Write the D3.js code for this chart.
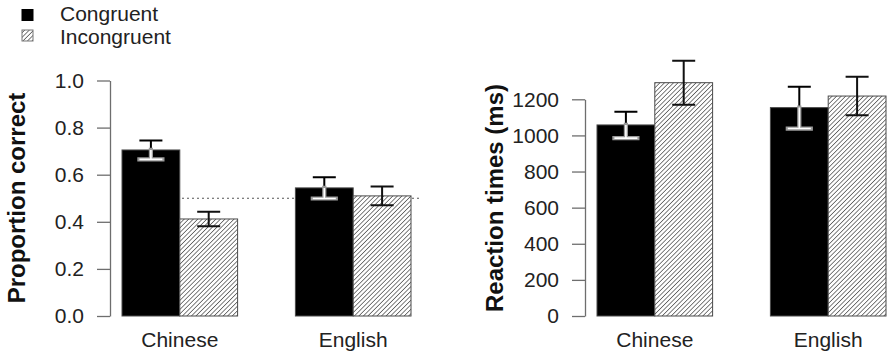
<!DOCTYPE html>
<html>
<head>
<meta charset="utf-8">
<script src="https://cdn.jsdelivr.net/npm/d3@7"></script>
<style>
  html, body { margin: 0; padding: 0; background: #fff; }
  svg { display: block; font-family: "Liberation Sans", Arial, sans-serif; }
</style>
</head>
<body>
<svg id="chart" width="887" height="354"></svg>
<script>
// Languages on the x axis and the two trial conditions
const languages = ["Chinese", "English"];
const conditions = ["Congruent", "Incongruent"];

// Proportion correct (mean and error half-width), per language x condition
const accuracyMean = [[0.705, 0.412], [0.544, 0.510]];
const accuracyErr  = [[0.040, 0.031], [0.045, 0.040]];

// Reaction times in ms (mean and error half-width)
const rtMean = [[1058, 1292], [1154, 1218]];
const rtErr  = [[73, 122], [116, 107]];

// Axis tick values
const accuracyTicks = [0, 0.2, 0.4, 0.6, 0.8, 1.0];
const rtTicks = [0, 200, 400, 600, 800, 1000, 1200];

// Chance level for the accuracy panel
const chanceLevel = 0.5;

const svg = d3.select("#chart");
const axisColor = "#6e6e6e";
const edgeColor = "#4a4a4a";

// Diagonal hatch pattern for incongruent bars
const defs = svg.append("defs");
const pat = defs.append("pattern")
  .attr("id", "hatch")
  .attr("patternUnits", "userSpaceOnUse")
  .attr("width", 3.2).attr("height", 3.2)
  .attr("patternTransform", "rotate(45)");
pat.append("rect").attr("width", 3.2).attr("height", 3.2).attr("fill", "#fff");
pat.append("line")
  .attr("x1", 0).attr("y1", 0).attr("x2", 0).attr("y2", 3.2)
  .attr("stroke", "#3a3a3a").attr("stroke-width", 1.3);

const fillFor = c => c === "Congruent" ? "#000" : "url(#hatch)";

function panel(opts) {
  const { xRange, yScale, ticks, fmt, means, errs, label, labelX, chance } = opts;
  const g = svg.append("g");

  const x0 = d3.scaleBand().domain(languages).range(xRange)
    .paddingInner(1 / 3).paddingOuter(0);
  const x1 = d3.scaleBand().domain(conditions).range([0, x0.bandwidth()]);

  // Chance-level reference line, behind the bars
  if (chance !== undefined) {
    g.append("line")
      .attr("x1", xRange[0]).attr("x2", xRange[1] + 11)
      .attr("y1", yScale(chance)).attr("y2", yScale(chance))
      .attr("stroke", "#555").attr("stroke-width", 1.2)
      .attr("stroke-dasharray", "2,3");
  }

  const rows = [];
  languages.forEach((lang, i) => conditions.forEach((cond, j) => {
    rows.push({ lang, cond, mean: means[i][j], err: errs[i][j] });
  }));

  // Bars
  g.selectAll("rect.bar").data(rows).join("rect")
    .attr("class", "bar")
    .attr("x", d => x0(d.lang) + x1(d.cond))
    .attr("width", x1.bandwidth())
    .attr("y", d => yScale(d.mean))
    .attr("height", d => yScale(0) - yScale(d.mean))
    .attr("fill", d => fillFor(d.cond))
    .attr("stroke", edgeColor).attr("stroke-width", 1);

  // Error bars
  const capHalf = 11.5;
  rows.forEach(d => {
    const cx = x0(d.lang) + x1(d.cond) + x1.bandwidth() / 2;
    const yTop = yScale(d.mean + d.err);
    const yMid = yScale(d.mean);
    const yBot = yScale(d.mean - d.err);
    const eg = g.append("g");
    if (d.cond === "Congruent") {
      // upper half in black, lower half white over a grey halo inside the black bar
      eg.append("path")
        .attr("d", `M${cx},${yMid}V${yTop}M${cx - capHalf},${yTop}H${cx + capHalf}`)
        .attr("stroke", "#000").attr("stroke-width", 2).attr("fill", "none");
      const lower = `M${cx},${yMid}V${yBot}M${cx - capHalf},${yBot}H${cx + capHalf}`;
      eg.append("path").attr("d", lower)
        .attr("stroke", "#9a9a9a").attr("stroke-width", 4.2).attr("fill", "none")
        .attr("stroke-linecap", "square");
      eg.append("path").attr("d", lower)
        .attr("stroke", "#fff").attr("stroke-width", 1.6).attr("fill", "none");
    } else {
      eg.append("path")
        .attr("d", `M${cx},${yBot}V${yTop}M${cx - capHalf},${yTop}H${cx + capHalf}M${cx - capHalf},${yBot}H${cx + capHalf}`)
        .attr("stroke", "#111").attr("stroke-width", 2).attr("fill", "none");
    }
  });

  // Y axis
  const axisX = xRange[0] - 12;
  const ay = g.append("g")
    .attr("transform", `translate(${axisX},0)`)
    .call(d3.axisLeft(yScale).tickValues(ticks).tickFormat(fmt)
      .tickSize(13).tickSizeOuter(0).tickPadding(13));
  ay.select(".domain").attr("stroke", axisColor).attr("stroke-width", 1.3);
  ay.selectAll(".tick line").attr("stroke", axisColor).attr("stroke-width", 1.3);
  ay.selectAll(".tick text")
    .attr("font-family", "Liberation Sans, Arial, sans-serif")
    .attr("font-size", 21).attr("fill", "#222");

  // Category labels
  g.selectAll("text.cat").data(languages).join("text")
    .attr("class", "cat")
    .attr("x", d => x0(d) + x0.bandwidth() / 2)
    .attr("y", 347)
    .attr("text-anchor", "middle")
    .attr("font-size", 21).attr("fill", "#222")
    .text(d => d);

  // Y axis title
  g.append("text")
    .attr("transform", `translate(${labelX},${(yScale.range()[0] + 80) / 2}) rotate(-90)`)
    .attr("text-anchor", "middle")
    .attr("font-size", 24).attr("font-weight", "bold").attr("fill", "#111")
    .text(label);
}

panel({
  xRange: [122, 411],
  yScale: d3.scaleLinear().domain([0, 1]).range([316, 80.5]),
  ticks: accuracyTicks,
  fmt: d3.format(".1f"),
  means: accuracyMean,
  errs: accuracyErr,
  label: "Proportion correct",
  labelX: 25,
  chance: chanceLevel
});

panel({
  xRange: [597, 886],
  yScale: d3.scaleLinear().domain([0, 1200]).range([316, 99.3]),
  ticks: rtTicks,
  fmt: d3.format("d"),
  means: rtMean,
  errs: rtErr,
  label: "Reaction times (ms)",
  labelX: 503
});

// Legend
const legend = svg.append("g");
conditions.forEach((c, i) => {
  const ly = 9.5 + i * 20.5;
  legend.append("rect")
    .attr("x", 22).attr("y", ly).attr("width", 11).attr("height", 11)
    .attr("fill", fillFor(c))
    .attr("stroke", c === "Congruent" ? "#000" : "#777").attr("stroke-width", 1);
  legend.append("text")
    .attr("x", 60).attr("y", ly + 11.5 + i * 2.5)
    .attr("font-size", 21).attr("fill", "#222")
    .text(c);
});
</script>
</body>
</html>
